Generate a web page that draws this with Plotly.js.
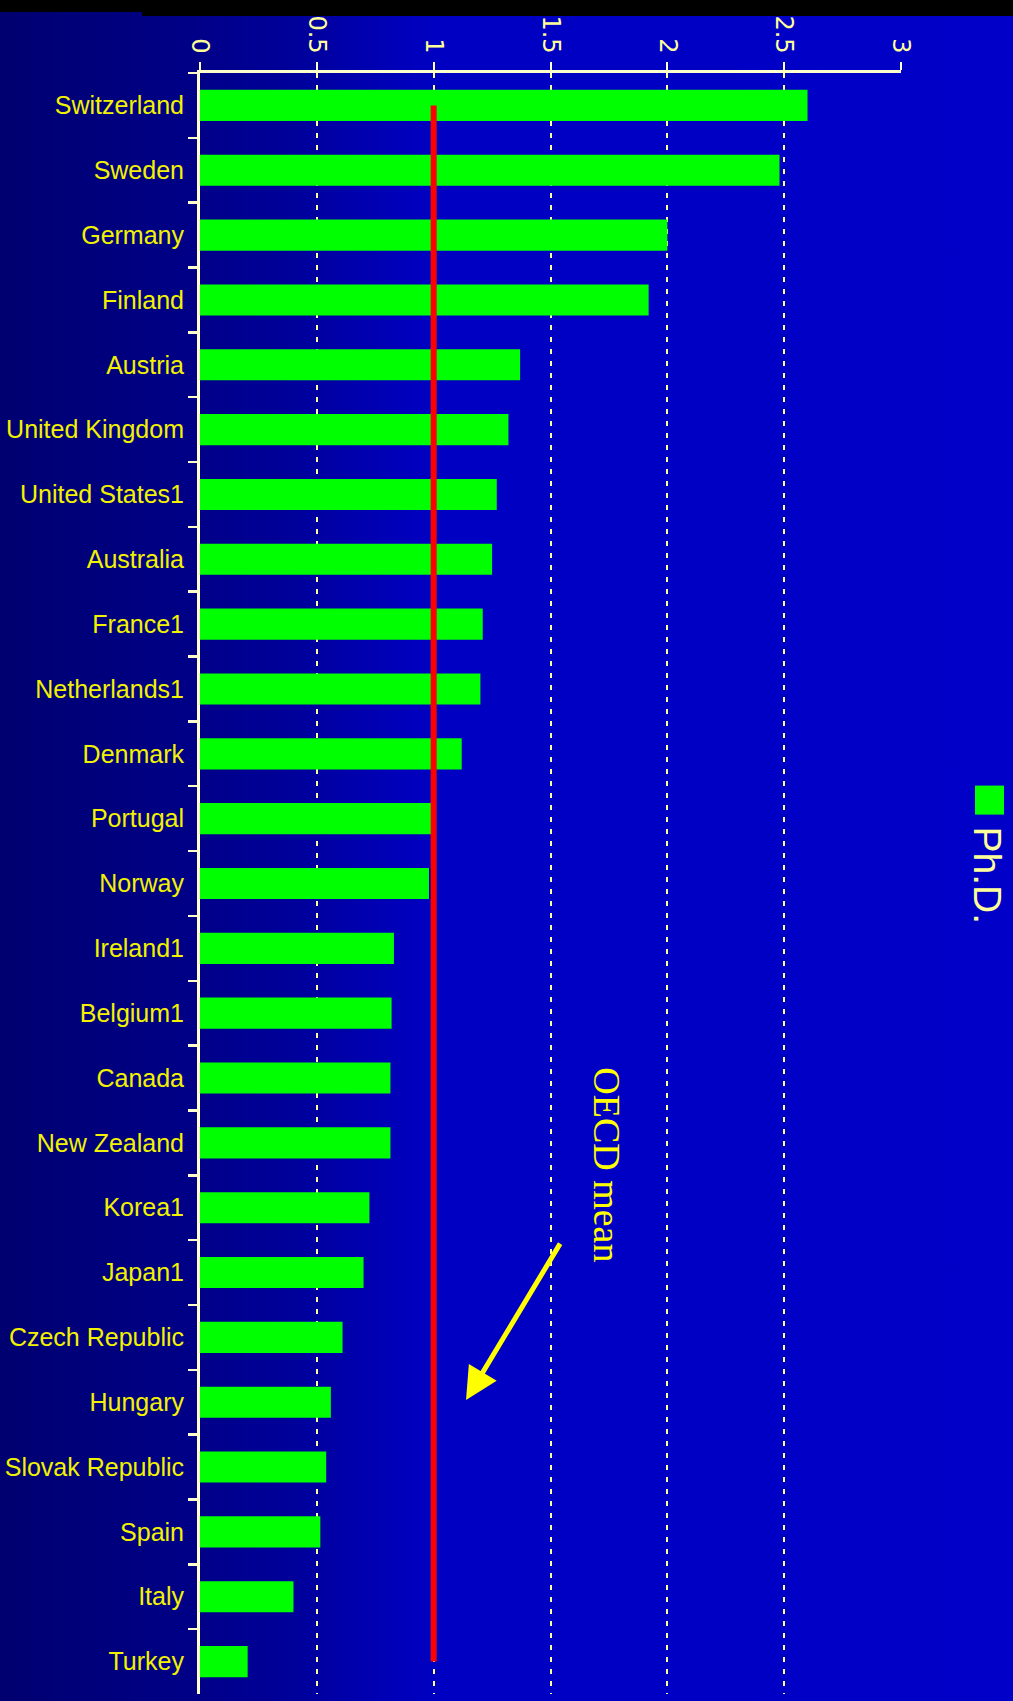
<!DOCTYPE html>
<html>
<head>
<meta charset="utf-8">
<script src="https://cdn.plot.ly/plotly-3.0.1.min.js"></script>
<style>
  html, body { margin: 0; padding: 0; background: #000; }
  #chart {
    width: 1013px; height: 1701px;
    background:
      linear-gradient(#000, #000) 142px 0 / 871px 16px no-repeat,
      linear-gradient(#000, #000) 0 0 / 142px 12px no-repeat,
      linear-gradient(to right, #000070 0%, #000088 19.7%, #00009C 29.6%, #0000BA 39.5%, #0000C2 43.4%, #0000C8 100%);
  }
</style>
</head>
<body>
<div id="chart"></div>
<script>
// ---- data ----
const categories = [
  "Switzerland", "Sweden", "Germany", "Finland", "Austria", "United Kingdom",
  "United States1", "Australia", "France1", "Netherlands1", "Denmark", "Portugal",
  "Norway", "Ireland1", "Belgium1", "Canada", "New Zealand", "Korea1", "Japan1",
  "Czech Republic", "Hungary", "Slovak Republic", "Spain", "Italy", "Turkey"
];
const phdValues = [
  2.60, 2.48, 2.00, 1.92, 1.37, 1.32,
  1.27, 1.25, 1.21, 1.20, 1.12, 0.99,
  0.98, 0.83, 0.82, 0.815, 0.815, 0.725, 0.70,
  0.61, 0.56, 0.54, 0.515, 0.40, 0.204
];
const oecdMean = 1;
const seriesName = "Ph.D.";
const meanLabel = "OECD mean";
const xTickVals = [0, 0.5, 1, 1.5, 2, 2.5, 3];
const xTickText = ["0", "0.5", "1", "1.5", "2", "2.5", "3"];

// ---- styles ----
const cream = "#FFFFCC";
const paleYellow = "#FFFF99";
const labelYellow = "#F2F200";

const bars = {
  type: "bar",
  orientation: "h",
  x: phdValues,
  y: categories,
  name: seriesName,
  marker: { color: "#00FF00", line: { width: 0 } },
  hoverinfo: "x+y"
};

const meanLine = {
  type: "scatter",
  mode: "lines",
  x: [oecdMean, oecdMean],
  y: [categories[0], categories[categories.length - 1]],
  line: { color: "#FF0000", width: 6 },
  hoverinfo: "skip",
  showlegend: false
};

const layout = {
  width: 1013,
  height: 1701,
  margin: { l: 200, r: 112, t: 73, b: 7, pad: 0 },
  paper_bgcolor: "rgba(0,0,0,0)",
  plot_bgcolor: "rgba(0,0,0,0)",
  showlegend: false,
  bargap: 0.52,
  xaxis: {
    side: "top",
    range: [0, 3],
    tickvals: xTickVals,
    ticktext: xTickText,
    tickangle: 90,
    tickfont: { family: "DejaVu Sans", size: 24, color: paleYellow },
    ticks: "outside",
    ticklen: 8,
    tickwidth: 2,
    tickcolor: cream,
    ticklabelstandoff: 0,
    showline: true,
    linecolor: cream,
    linewidth: 3,
    showgrid: true,
    gridcolor: paleYellow,
    gridwidth: 2,
    griddash: "5px,7px",
    zeroline: false,
    fixedrange: true
  },
  yaxis: {
    type: "category",
    categoryorder: "array",
    categoryarray: categories,
    range: [categories.length - 0.5, -0.5],
    tickfont: { family: "Liberation Sans", size: 25, color: labelYellow },
    ticks: "outside",
    tickson: "boundaries",
    ticklen: 9,
    tickwidth: 2.5,
    tickcolor: cream,
    ticklabelstandoff: 8,
    showline: true,
    linecolor: cream,
    linewidth: 3,
    showgrid: false,
    zeroline: false,
    fixedrange: true
  },
  shapes: [
    {
      type: "rect", xref: "paper", yref: "paper",
      x0: 1.1056, x1: 1.1469, y0: 0.5425, y1: 0.5604,
      fillcolor: "#00FF00", line: { width: 0 }
    }
  ],
  annotations: [
    {
      xref: "paper", yref: "paper", x: 1.124, y: 0.505,
      text: seriesName, showarrow: false, textangle: 90,
      font: { family: "Liberation Sans", size: 39, color: paleYellow },
      xanchor: "center", yanchor: "middle"
    },
    {
      xref: "paper", yref: "paper", x: 0.5806, y: 0.3268,
      text: meanLabel, showarrow: false, textangle: 90,
      font: { family: "Liberation Serif", size: 38, color: "#FFFF00" },
      xanchor: "center", yanchor: "middle"
    },
    {
      xref: "paper", yref: "paper", x: 0.3795, y: 0.1813,
      text: "", showarrow: true, ax: 95, ay: -158,
      arrowcolor: "#FFFF00", arrowwidth: 5, arrowhead: 2, arrowsize: 1.3
    }
  ]
};

Plotly.newPlot("chart", [bars, meanLine], layout, { displayModeBar: false, staticPlot: true });
</script>
</body>
</html>
